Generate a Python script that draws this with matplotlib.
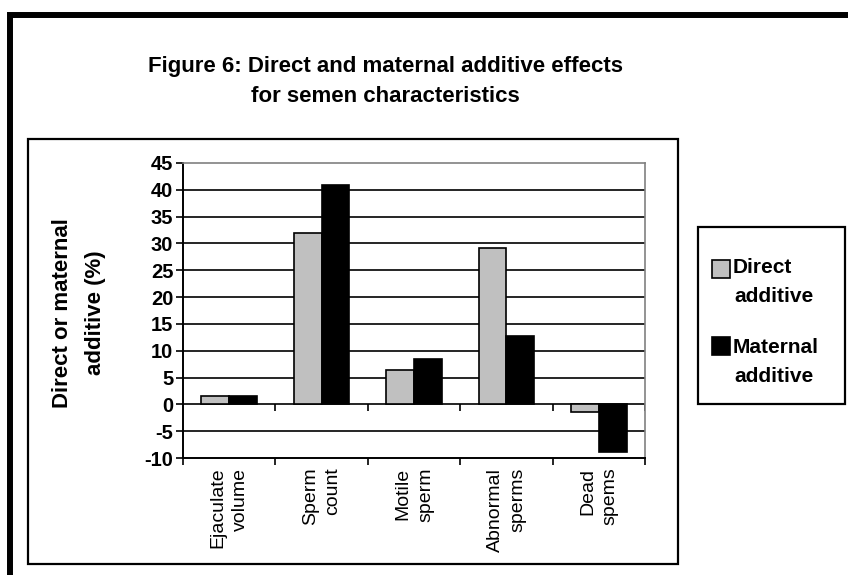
import matplotlib.pyplot as plt
from matplotlib.patches import Rectangle
import numpy as np

plt.rcParams['font.family'] = ['Liberation Sans', 'DejaVu Sans']

# Data
categories = ['Ejaculate\nvolume', 'Sperm\ncount', 'Motile\nsperm', 'Abnormal\nsperms', 'Dead\nspems']
direct_additive = [1.5, 32.0, 6.5, 29.2, -1.4]
maternal_additive = [1.6, 40.9, 8.5, 12.8, -8.8]
y_ticks = [-10, -5, 0, 5, 10, 15, 20, 25, 30, 35, 40, 45]

W, H = 848, 575
fig = plt.figure(figsize=(W / 100, H / 100), dpi=100)


def fx(px):
    return px / W


def fy(py):
    return 1 - py / H


# frames (outer frame is cut off at the right and bottom)
fig.add_artist(Rectangle((fx(10), -0.1), 1.2, fy(15) + 0.1, transform=fig.transFigure,
                         fill=False, lw=4.3, ec='black'))
fig.add_artist(Rectangle((fx(28), fy(564)), fx(678) - fx(28), fy(139) - fy(564),
                         transform=fig.transFigure, fill=False, lw=1.6, ec='black'))
fig.add_artist(Rectangle((fx(698), fy(404)), fx(845) - fx(698), fy(227) - fy(404),
                         transform=fig.transFigure, fill=False, lw=1.6, ec='black'))

fig.text(fx(385), fy(72), 'Figure 6: Direct and maternal additive effects',
         ha='center', va='baseline', fontsize=16, fontweight='bold')
fig.text(fx(385), fy(102), 'for semen characteristics',
         ha='center', va='baseline', fontsize=16, fontweight='bold')

ax = fig.add_axes([fx(183), fy(458), fx(645) - fx(183), fy(163) - fy(458)])
x = np.arange(len(categories))
bw = 0.3
ax.bar(x - bw / 2, direct_additive, bw, color='#C0C0C0', edgecolor='black', lw=1.2, zorder=3)
ax.bar(x + bw / 2, maternal_additive, bw, color='black', edgecolor='black', lw=1.2, zorder=3)

ax.set_xlim(-0.5, len(categories) - 0.5)
ax.set_ylim(-10, 45)
ax.set_yticks(y_ticks)
ax.set_yticklabels([str(v) for v in y_ticks], fontsize=14.5, fontweight='bold')
for v in y_ticks[1:-1]:
    ax.axhline(v, color='black', lw=1.2, zorder=1)

bounds = np.arange(len(categories) + 1) - 0.5
ax.set_xticks(bounds)
ax.set_xticklabels([])
ax.tick_params(axis='x', direction='out', length=5, width=1.2)
ax.tick_params(axis='y', direction='out', length=5, width=1.2, pad=2)
ax.vlines(bounds[1:], -1.3, 0, color='black', lw=1.2, zorder=2)

for s in ['top', 'right']:
    ax.spines[s].set_color('#808080')
    ax.spines[s].set_linewidth(1.2)
for s in ['left', 'bottom']:
    ax.spines[s].set_color('black')
    ax.spines[s].set_linewidth(1.4)

for i, lab in enumerate(categories):
    ax.text(i, -11.8, lab, rotation=90, ha='center', va='top',
            multialignment='right', fontsize=14, linespacing=1.45)

fig.text(fx(63), fy(313), 'Direct or maternal', rotation=90, ha='center', va='center',
         fontsize=16, fontweight='bold')
fig.text(fx(96), fy(313), 'additive (%)', rotation=90, ha='center', va='center',
         fontsize=16, fontweight='bold')

# legend
fig.add_artist(Rectangle((fx(712), fy(278)), fx(730) - fx(712), fy(260) - fy(278),
                         transform=fig.transFigure, fc='#C0C0C0', ec='black', lw=1.2))
fig.add_artist(Rectangle((fx(712), fy(355)), fx(730) - fx(712), fy(337) - fy(355),
                         transform=fig.transFigure, fc='black', ec='black', lw=1.2))
fig.text(fx(733), fy(273), 'Direct', ha='left', va='baseline', fontsize=15, fontweight='bold')
fig.text(fx(734), fy(302), 'additive', ha='left', va='baseline', fontsize=15, fontweight='bold')
fig.text(fx(733), fy(353), 'Maternal', ha='left', va='baseline', fontsize=15, fontweight='bold')
fig.text(fx(734), fy(382), 'additive', ha='left', va='baseline', fontsize=15, fontweight='bold')

fig.savefig('out.png', dpi=100)
